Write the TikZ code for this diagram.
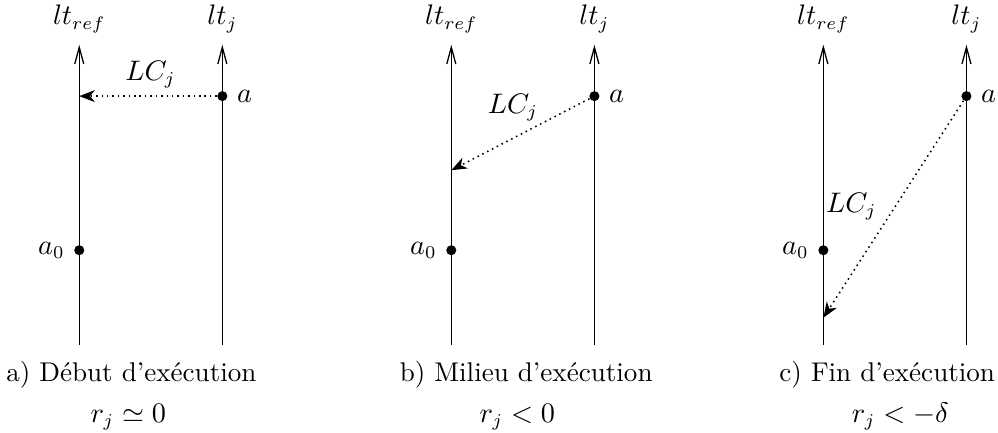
\documentclass[tikz,border=0pt]{standalone}
\usepackage{tikz}
\usetikzlibrary{arrows.meta}
\usepackage{amsmath,amssymb}

\begin{document}
\begin{tikzpicture}[font=\fontsize{10.5}{12}\selectfont,
  axis/.style={-{Straight Barb[length=6.5pt,width=3.5pt]}, line width=0.5pt},
  msg/.style={line width=0.6pt, dash pattern=on 0.6pt off 1.5pt,
    -{Stealth[length=6pt,width=4.6pt,inset=1.8pt]}},
  event/.style={circle, fill, inner sep=0pt, minimum size=3.9pt},
  clock/.style={anchor=base}]
  \useasboundingbox (0,0) rectangle (13.6,5.9);

  %% ── Panel A: Début d'exécution ────────────────────────────
  \begin{scope}
  \coordinate (refbotA) at (1.08,1.2);  \coordinate (reftopA) at (1.08,5.29);
  \coordinate (jbotA)   at (3.03,1.2);  \coordinate (jtopA)   at (3.03,5.29);
  \draw[axis] (refbotA) -- (reftopA);
  \draw[axis] (jbotA) -- (jtopA);
  \node[clock] (ltrefA) at (1.08,5.56) {$lt_{ref}$};
  \node[clock] (ltjA)   at (3.03,5.56) {$lt_j$};
  %% events
  \node[event, label=right:$a$] (aA) at (3.03,4.59) {};
  \node[event, label=left:$a_0$] (azA) at (1.08,2.49) {};
  \coordinate (recvA) at (1.08,4.59);
  \draw[msg] (aA) -- (recvA);
  \node (lcA) at (2.05,4.88) {$LC_j$};
  %% caption
  \node[clock] (capA) at (1.79,0.695) {a) Début d'exécution};
  \node[clock] (rA)   at (1.75,0.14)  {$r_j \simeq 0$};
  \end{scope}

  %% ── Panel B: Milieu d'exécution ───────────────────────────
  \begin{scope}[xshift=5.07cm]
  \coordinate (refbotB) at (1.08,1.2);  \coordinate (reftopB) at (1.08,5.29);
  \coordinate (jbotB)   at (3.03,1.2);  \coordinate (jtopB)   at (3.03,5.29);
  \draw[axis] (refbotB) -- (reftopB);
  \draw[axis] (jbotB) -- (jtopB);
  \node[clock] (ltrefB) at (1.08,5.56) {$lt_{ref}$};
  \node[clock] (ltjB)   at (3.03,5.56) {$lt_j$};
  %% events
  \node[event, label=right:$a$] (aB) at (3.03,4.59) {};
  \node[event, label=left:$a_0$] (azB) at (1.08,2.49) {};
  \coordinate (recvB) at (1.08,3.58);
  \draw[msg] (aB) -- (recvB);
  \node (lcB) at (1.92,4.43) {$LC_j$};
  %% caption
  \node[clock] (capB) at (2.10,0.695) {b) Milieu d'exécution};
  \node[clock] (rB)   at (1.98,0.14)  {$r_j < 0$};
  \end{scope}

  %% ── Panel C: Fin d'exécution ──────────────────────────────
  \begin{scope}[xshift=10.14cm]
  \coordinate (refbotC) at (1.08,1.2);  \coordinate (reftopC) at (1.08,5.29);
  \coordinate (jbotC)   at (3.03,1.2);  \coordinate (jtopC)   at (3.03,5.29);
  \draw[axis] (refbotC) -- (reftopC);
  \draw[axis] (jbotC) -- (jtopC);
  \node[clock] (ltrefC) at (1.08,5.56) {$lt_{ref}$};
  \node[clock] (ltjC)   at (3.03,5.56) {$lt_j$};
  %% events
  \node[event, label=right:$a$] (aC) at (3.03,4.59) {};
  \node[event, label=left:$a_0$] (azC) at (1.08,2.49) {};
  \coordinate (recvC) at (1.08,1.57);
  \draw[msg] (aC) -- (recvC);
  \node (lcC) at (1.46,3.08) {$LC_j$};
  %% caption
  \node[clock] (capC) at (1.95,0.695) {c) Fin d'exécution};
  \node[clock] (rC)   at (2.13,0.14)  {$r_j < -\delta$};
  \end{scope}
\end{tikzpicture}
\end{document}
